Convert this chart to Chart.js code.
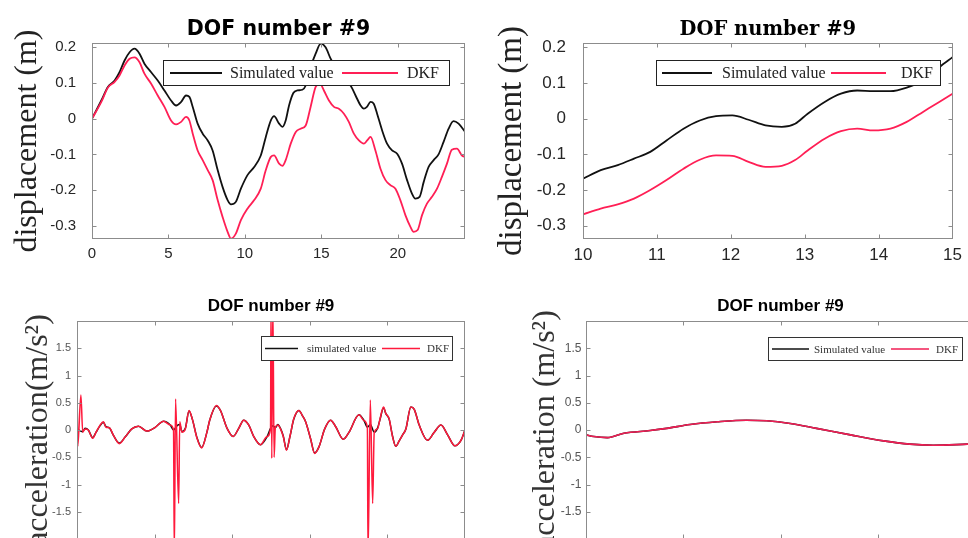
<!DOCTYPE html>
<html><head><meta charset="utf-8">
<script src="https://cdn.jsdelivr.net/npm/chart.js@4.4.1/dist/chart.umd.min.js"></script>
<style>
html,body{margin:0;padding:0;width:968px;height:538px;overflow:hidden;background:#fff;}
canvas{position:absolute;}
</style></head><body>
<canvas id="c1" width="484" height="270" style="left:0;top:0"></canvas>
<canvas id="c2" width="484" height="270" style="left:484px;top:0"></canvas>
<canvas id="c3" width="484" height="300" style="left:0;top:270px"></canvas>
<canvas id="c4" width="510" height="300" style="left:484px;top:270px"></canvas>
<script>
// ---------- data ----------
const chartTitle = 'DOF number #9';
const seriesNames = ['Simulated value', 'DKF'];
const seriesNamesBL = ['simulated value', 'DKF'];
const dispLabel = 'displacement (m)';
const accLabelBL = 'acceleration(m/s\u00B2)';
const accLabelBR = 'acceleration (m/s\u00B2)';

const dispTicks = [-0.3, -0.2, -0.1, 0, 0.1, 0.2];
const accTicks = [-1.5, -1, -0.5, 0, 0.5, 1, 1.5];
const xTicksTL = [0, 5, 10, 15, 20];
const xTicksTR = [10, 11, 12, 13, 14, 15];
const xTicksBL = [5, 10, 15, 20];
const xTicksBR = [11, 12, 13];

// top-left: displacement, full record
const dispTL_sim_t = [0,0.61,1.04,1.48,1.8,2.13,2.46,2.78,3.11,3.43,3.87,4.3,4.74,5.17,5.5,5.83,6.15,6.37,6.59,6.91,7.24,7.57,7.89,8.22,8.54,8.87,9.09,9.41,9.74,10.17,10.61,11.04,11.37,11.7,11.91,12.24,12.46,12.67,12.89,13.17,13.43,13.76,13.98,14.3,14.63,14.96,15.28,15.61,15.93,16.15,16.48,16.91,17.24,17.57,17.78,18.0,18.22,18.43,18.65,18.98,19.3,19.63,19.96,20.28,20.61,20.93,21.15,21.43,21.7,22.02,22.35,22.67,23.0,23.33,23.65,23.98,24.41];
const dispTL_sim = [0,0.051,0.089,0.107,0.13,0.163,0.186,0.196,0.182,0.154,0.13,0.107,0.079,0.051,0.037,0.047,0.065,0.061,0.033,-0.014,-0.042,-0.061,-0.089,-0.144,-0.191,-0.228,-0.24,-0.233,-0.196,-0.158,-0.135,-0.103,-0.051,-0.005,0.007,-0.014,-0.023,-0.005,0.037,0.072,0.079,0.081,0.093,0.144,0.182,0.21,0.2,0.168,0.144,0.13,0.107,0.093,0.065,0.037,0.028,0.034,0.047,0.042,0.014,-0.033,-0.07,-0.089,-0.098,-0.126,-0.172,-0.21,-0.224,-0.219,-0.177,-0.135,-0.116,-0.1,-0.065,-0.028,-0.007,-0.014,-0.037];
const dispTL_dkf_t = [0,0.61,1.04,1.48,1.8,2.13,2.46,2.78,3.11,3.43,3.87,4.3,4.74,5.17,5.5,5.83,6.15,6.37,6.59,6.91,7.24,7.57,7.89,8.22,8.54,8.87,9.09,9.41,9.74,10.17,10.61,11.04,11.37,11.7,11.91,12.24,12.46,12.67,13.0,13.33,13.65,13.98,14.3,14.63,14.91,15.17,15.5,15.83,16.15,16.48,16.8,17.13,17.46,17.78,18.0,18.22,18.54,18.87,19.2,19.52,19.85,20.17,20.5,20.83,21.04,21.3,21.59,21.91,22.24,22.57,22.89,23.22,23.54,23.87,24.2,24.41];
const dispTL_dkf = [0,0.047,0.087,0.103,0.121,0.149,0.168,0.172,0.158,0.126,0.098,0.065,0.033,-0.005,-0.016,-0.009,0.005,-0.005,-0.042,-0.089,-0.116,-0.144,-0.172,-0.228,-0.275,-0.317,-0.336,-0.322,-0.284,-0.252,-0.228,-0.196,-0.144,-0.107,-0.103,-0.126,-0.132,-0.116,-0.07,-0.037,-0.028,-0.019,0.033,0.089,0.098,0.079,0.051,0.033,0.028,0.014,-0.009,-0.042,-0.061,-0.07,-0.061,-0.051,-0.089,-0.14,-0.172,-0.186,-0.196,-0.228,-0.27,-0.303,-0.317,-0.312,-0.27,-0.238,-0.219,-0.196,-0.163,-0.126,-0.087,-0.084,-0.103,-0.107];

// top-right: displacement, 10..15 s
const dispTR_t = [10,10.24,10.47,10.69,10.91,11.13,11.36,11.58,11.8,12.02,12.24,12.47,12.69,12.87,13.04,13.27,13.49,13.71,13.93,14.16,14.38,14.6,14.82,15];
const dispTR_sim = [-0.168,-0.144,-0.13,-0.112,-0.093,-0.061,-0.028,-0.005,0.007,0.009,-0.003,-0.019,-0.023,-0.014,0.014,0.047,0.07,0.079,0.077,0.077,0.087,0.107,0.144,0.172];
const dispTR_dkf = [-0.268,-0.252,-0.24,-0.224,-0.2,-0.172,-0.14,-0.115,-0.103,-0.104,-0.121,-0.135,-0.132,-0.116,-0.089,-0.056,-0.035,-0.028,-0.033,-0.028,-0.009,0.019,0.047,0.07];

// bottom-left: acceleration, full record
const accBL_sim_t = [0,0.37,0.52,0.73,1.01,1.23,1.49,1.7,1.87,2.09,2.35,2.73,3.1,3.53,3.96,4.5,5.04,5.58,6.01,6.22,6.45,6.62,6.76,6.98,7.22,7.44,7.73,8.03,8.38,8.55,8.98,9.24,9.67,10.06,10.42,10.74,11.07,11.39,11.82,12.25,12.47,12.62,12.78,12.94,13.11,13.29,13.5,13.72,13.97,14.3,14.51,14.73,15.05,15.31,15.59,15.96,16.34,16.67,17.16,17.53,18.17,18.5,18.71,18.9,19.15,19.36,19.53,19.75,19.9,20.11,20.33,20.54,20.76,20.98,21.19,21.51,21.73,22.05,22.59,23.02,23.45,23.88,24.35,24.74,25];
const accBL_sim = [0.02,-0.03,0.03,0.0,-0.14,-0.04,0.08,0.14,0.06,0.04,-0.1,-0.24,-0.13,0.02,0.07,-0.02,0.05,0.16,0.09,0.0,0.08,0.1,-0.03,0.03,0.35,0.19,-0.14,-0.32,-0.03,0.18,0.44,0.36,0.03,-0.12,0.03,0.18,0.09,-0.12,-0.27,-0.12,0.03,0.08,0.04,0.1,0.03,-0.11,-0.36,-0.12,0.2,0.36,0.27,0.15,-0.16,-0.42,-0.31,0.02,0.18,0.06,-0.17,-0.04,0.28,0.17,0.05,0.1,-0.04,0.03,0.2,0.41,0.3,0.2,-0.11,-0.3,-0.2,-0.09,0.02,0.42,0.38,0.09,-0.19,-0.04,0.09,-0.09,-0.29,-0.19,0.0];
const accBL_dkf_t = [0,0.05,0.25,0.37,0.52,0.73,1.01,1.23,1.49,1.7,1.87,2.09,2.35,2.73,3.1,3.53,3.96,4.5,5.04,5.58,6.01,6.22,6.27,6.35,6.55,6.62,6.76,6.98,7.22,7.44,7.73,8.03,8.38,8.55,8.98,9.24,9.67,10.06,10.42,10.74,11.07,11.39,11.82,12.25,12.47,12.5,12.55,12.62,12.7,12.78,12.94,13.11,13.29,13.5,13.72,13.97,14.3,14.51,14.73,15.05,15.31,15.59,15.96,16.34,16.67,17.16,17.53,18.17,18.5,18.71,18.75,18.9,19.05,19.15,19.36,19.53,19.75,19.9,20.11,20.33,20.54,20.76,20.98,21.19,21.51,21.73,22.05,22.59,23.02,23.45,23.88,24.35,24.74,25];
const accBL_dkf = [0.95,-0.3,0.64,-0.04,0.02,0.0,-0.15,-0.04,0.09,0.15,0.05,0.04,-0.1,-0.25,-0.13,0.02,0.07,-0.02,0.05,0.16,0.09,0.0,-2.3,0.57,-1.35,0.15,-0.04,0.02,0.36,0.19,-0.15,-0.33,-0.03,0.18,0.45,0.36,0.03,-0.12,0.03,0.18,0.09,-0.12,-0.27,-0.12,0.03,2.3,-0.52,2.3,-0.5,0.05,0.09,0.02,-0.12,-0.37,-0.12,0.21,0.36,0.27,0.15,-0.16,-0.43,-0.31,0.02,0.18,0.06,-0.17,-0.04,0.28,0.17,0.05,-2.3,0.55,-1.35,-0.05,0.02,0.21,0.42,0.3,0.21,-0.12,-0.3,-0.2,-0.09,0.02,0.42,0.38,0.09,-0.19,-0.04,0.09,-0.09,-0.29,-0.19,0.0];

// bottom-right: acceleration, 10..14 s
const accBR_t = [10,10.08,10.22,10.39,10.66,10.83,11.07,11.35,11.65,11.86,12.1,12.37,12.72,13.06,13.33,13.57,13.92,14.0];
const accBR_sim = [-0.09,-0.12,-0.14,-0.06,-0.01,0.03,0.1,0.15,0.18,0.17,0.12,0.03,-0.09,-0.2,-0.26,-0.28,-0.26,-0.255];
const accBR_dkf = [-0.09,-0.12,-0.14,-0.06,-0.01,0.03,0.1,0.15,0.18,0.17,0.12,0.03,-0.09,-0.2,-0.26,-0.28,-0.26,-0.255];

// ---------- rendering ----------
function pts(xs, ys) { return xs.map((x, i) => ({ x: x, y: ys[i] })); }

const matlabPlugin = {
  id: 'matlab',
  afterDatasetsDraw(chart, args, o) {
    const ctx = chart.ctx, a = chart.chartArea;
    ctx.save();
    ctx.strokeStyle = o.boxColor; ctx.lineWidth = 1;
    const L = Math.round(a.left) + 0.5, T = Math.round(a.top) + 0.5;
    const R = Math.round(a.right) - 0.5, B = Math.round(a.bottom) - 0.5;
    ctx.strokeRect(L, T, R - L, B - T);
    const tl = o.tickLen;
    ctx.beginPath();
    chart.scales.x.ticks.forEach(t => {
      const p = Math.round(chart.scales.x.getPixelForValue(t.value)) + 0.5;
      if (p <= L + 1 || p >= R - 1) return;
      ctx.moveTo(p, B); ctx.lineTo(p, B - tl);
      ctx.moveTo(p, T); ctx.lineTo(p, T + tl);
    });
    chart.scales.y.ticks.forEach(t => {
      const p = Math.round(chart.scales.y.getPixelForValue(t.value)) + 0.5;
      if (p <= T + 1 || p >= B - 1) return;
      ctx.moveTo(L, p); ctx.lineTo(L + tl, p);
      ctx.moveTo(R, p); ctx.lineTo(R - tl, p);
    });
    ctx.stroke();
    // legend box
    const g = o.legend;
    ctx.fillStyle = '#fff';
    ctx.fillRect(g.x, g.y, g.w, g.h);
    ctx.strokeStyle = g.border; ctx.lineWidth = 1;
    ctx.strokeRect(g.x + 0.5, g.y + 0.5, g.w, g.h);
    ctx.font = g.font; ctx.textBaseline = 'middle'; ctx.textAlign = 'left';
    const cy = g.y + g.h / 2 + 0.5;
    chart.data.datasets.forEach((ds, i) => {
      const it = g.items[i];
      ctx.strokeStyle = ds.borderColor; ctx.lineWidth = g.lw;
      ctx.beginPath(); ctx.moveTo(g.x + it[0], cy); ctx.lineTo(g.x + it[1], cy); ctx.stroke();
      ctx.fillStyle = g.color;
      ctx.fillText(ds.label, g.x + it[2], cy + 1);
    });
    ctx.restore();
  }
};

function makeChart(id, o) {
  return new Chart(document.getElementById(id), {
    type: 'line',
    data: { datasets: [
      { label: o.names[0], data: pts(o.simT, o.sim), borderColor: '#111111', borderWidth: o.lw, order: 1, clip: 0 },
      { label: o.names[1], data: pts(o.dkfT, o.dkf), borderColor: o.red, borderWidth: o.lw, order: 0, clip: 0 }
    ] },
    plugins: [matlabPlugin],
    options: {
      responsive: false, animation: false, events: [],
      layout: { padding: { left: 0, right: o.padR, top: 0, bottom: 0 } },
      elements: { point: { radius: 0 }, line: { cubicInterpolationMode: 'monotone' } },
      plugins: {
        legend: { display: false }, tooltip: { enabled: false },
        title: { display: true, text: chartTitle, fullSize: false, color: '#000', font: o.titleFont, padding: o.titlePad },
        matlab: { boxColor: o.boxColor, tickLen: o.tickLen, legend: o.legend }
      },
      scales: {
        x: {
          type: 'linear', min: o.xmin, max: o.xmax,
          afterBuildTicks: s => { s.ticks = o.xt.map(v => ({ value: v })); },
          afterFit: s => { s.height = o.xh; },
          grid: { display: false, drawTicks: false }, border: { display: false },
          ticks: { autoSkip: false, maxRotation: 0, font: o.tickFont, color: o.tickColor, padding: o.xpad, callback: v => String(v) }
        },
        y: {
          type: 'linear', min: o.ymin, max: o.ymax,
          afterBuildTicks: s => { s.ticks = o.yt.map(v => ({ value: v })); },
          afterFit: s => { s.width = o.yw; },
          grid: { display: false, drawTicks: false }, border: { display: false },
          ticks: { autoSkip: false, font: o.tickFont, color: o.tickColor, padding: o.ypad, callback: v => String(v) },
          title: { display: true, text: o.ytitle, color: o.ytColor, font: o.ytFont, padding: { top: o.ytPad, bottom: 0 } }
        }
      }
    }
  });
}

// top-left
makeChart('c1', {
  names: seriesNames, simT: dispTL_sim_t, sim: dispTL_sim, dkfT: dispTL_dkf_t, dkf: dispTL_dkf,
  red: '#ff1f55', lw: 1.8, padR: 19,
  titleFont: { family: 'DejaVu Sans', size: 20.5, weight: 'bold', lineHeight: 1.2 }, titlePad: { top: 17, bottom: 1.4 },
  boxColor: '#8c8c8c', tickLen: 4,
  legend: { x: 163, y: 60, w: 286, h: 25, border: '#222', font: '16px "Liberation Serif"', color: '#222', lw: 1.8, items: [[7, 59, 67], [179, 235, 244]] },
  xmin: 0, xmax: 24.4, xt: xTicksTL, xh: 31, xpad: 6,
  ymin: -0.337, ymax: 0.212, yt: dispTicks, yw: 92, ypad: 16,
  tickFont: { family: '"Liberation Sans"', size: 15 }, tickColor: '#262626',
  ytitle: dispLabel, ytColor: '#222', ytFont: { family: '"Liberation Serif"', size: 32, lineHeight: 1.2 }, ytPad: 8
});

// top-right
makeChart('c2', {
  names: seriesNames, simT: dispTR_t, sim: dispTR_sim, dkfT: dispTR_t, dkf: dispTR_dkf,
  red: '#ff1f55', lw: 1.8, padR: 12,
  titleFont: { family: 'DejaVu Serif', size: 19.5, weight: 'bold', lineHeight: 1.2 }, titlePad: { top: 17.8, bottom: 1.8 },
  boxColor: '#8c8c8c', tickLen: 4,
  legend: { x: 172, y: 60, w: 284, h: 25, border: '#222', font: '16px "Liberation Serif"', color: '#222', lw: 1.8, items: [[6, 56, 66], [175, 230, 245]] },
  xmin: 10, xmax: 15, xt: xTicksTR, xh: 31, xpad: 6,
  ymin: -0.337, ymax: 0.212, yt: dispTicks, yw: 99, ypad: 17,
  tickFont: { family: '"Liberation Sans"', size: 17 }, tickColor: '#262626',
  ytitle: dispLabel, ytColor: '#222', ytFont: { family: '"Liberation Serif"', size: 33, lineHeight: 1.2 }, ytPad: 8.2
});

// bottom-left
makeChart('c3', {
  names: seriesNamesBL, simT: accBL_sim_t, sim: accBL_sim, dkfT: accBL_dkf_t, dkf: accBL_dkf,
  red: '#ff1a3c', lw: 1.5, padR: 19,
  titleFont: { family: '"Liberation Sans"', size: 17, weight: 'bold', lineHeight: 1.2 }, titlePad: { top: 26.3, bottom: 4.3 },
  boxColor: '#8c8c8c', tickLen: 4,
  legend: { x: 261, y: 66, w: 191, h: 24, border: '#333', font: '11px "Liberation Serif"', color: '#333', lw: 1.6, items: [[4, 37, 46], [121, 159, 166]] },
  xmin: 0, xmax: 25, xt: xTicksBL, xh: 31, xpad: 6,
  ymin: -2, ymax: 2, yt: accTicks, yw: 77, ypad: 6,
  tickFont: { family: '"Liberation Sans"', size: 11 }, tickColor: '#555',
  ytitle: accLabelBL, ytColor: '#333', ytFont: { family: '"Liberation Serif"', size: 32, lineHeight: 1.2 }, ytPad: 19.3
});

// bottom-right
makeChart('c4', {
  names: seriesNames, simT: accBR_t, sim: accBR_sim, dkfT: accBR_t, dkf: accBR_dkf,
  red: '#f01e55', lw: 1.6, padR: 19,
  titleFont: { family: '"Liberation Sans"', size: 17, weight: 'bold', lineHeight: 1.2 }, titlePad: { top: 26.5, bottom: 4.1 },
  boxColor: '#8c8c8c', tickLen: 4,
  legend: { x: 284, y: 67, w: 194, h: 23, border: '#333', font: '11px "Liberation Serif"', color: '#333', lw: 1.6, items: [[4, 41, 46], [123, 161, 168]] },
  xmin: 10, xmax: 14, xt: xTicksBR, xh: 31, xpad: 6,
  ymin: -2, ymax: 2, yt: accTicks, yw: 102, ypad: 4.5,
  tickFont: { family: '"Liberation Sans"', size: 12 }, tickColor: '#555',
  ytitle: accLabelBR, ytColor: '#333', ytFont: { family: '"Liberation Serif"', size: 32, lineHeight: 1.2 }, ytPad: 42.5
});
</script>
</body></html>
